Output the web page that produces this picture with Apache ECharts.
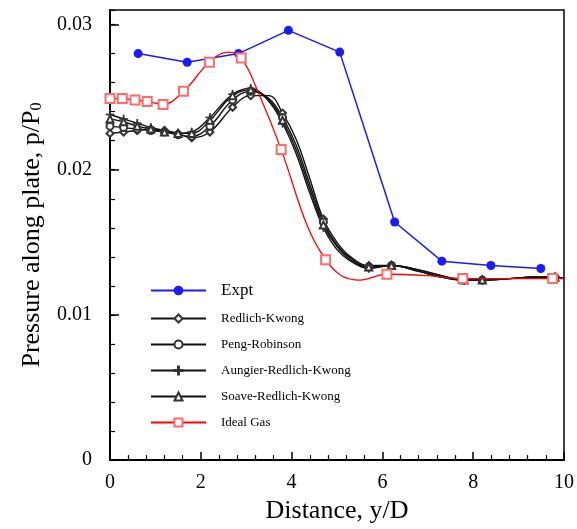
<!DOCTYPE html>
<html>
<head>
<meta charset="utf-8">
<script src="https://cdn.jsdelivr.net/npm/echarts@6/dist/echarts.min.js"></script>
<style>
  html, body { margin: 0; padding: 0; background: #fff; }
  #chart { width: 577px; height: 529px; }
</style>
</head>
<body>
<div id="chart"></div>
<script>
// 实验数据
const exptX = [0.62, 1.70, 2.83, 3.93, 5.06, 6.27, 7.31, 8.39, 9.49];
const exptY = [0.0280, 0.0274, 0.0280, 0.0296, 0.0281, 0.0164, 0.0137, 0.0134, 0.0132];

// 各状态方程共用的 x
const eosX = [0, 0.3, 0.6, 0.9, 1.2, 1.5, 1.8, 2.2, 2.7, 3.1, 3.5, 3.8, 4.1, 4.4, 4.7, 5.0, 5.3, 5.7, 6.2, 6.8, 7.3, 7.8, 8.2, 8.8, 9.3, 9.8, 10];
const rkY = [0.0225, 0.0226, 0.0227, 0.0228, 0.0227, 0.0225, 0.0222, 0.0226, 0.0243, 0.0251, 0.0251, 0.0239, 0.0221, 0.0194, 0.0166, 0.0150, 0.0140, 0.0134, 0.0134, 0.0131, 0.0127, 0.0124, 0.0124, 0.0125, 0.0126, 0.0126, 0.0125];
const prY = [0.0230, 0.0229, 0.0228, 0.0227, 0.0226, 0.0224, 0.0223, 0.0230, 0.0248, 0.0254, 0.0249, 0.0236, 0.0217, 0.0190, 0.0164, 0.0148, 0.0139, 0.0133, 0.0134, 0.0131, 0.0127, 0.0124, 0.0124, 0.0125, 0.0126, 0.0126, 0.0125];
const arkY = [0.0238, 0.0235, 0.0232, 0.0229, 0.0227, 0.0225, 0.0226, 0.0236, 0.0252, 0.0256, 0.0247, 0.0232, 0.0211, 0.0184, 0.0160, 0.0145, 0.0137, 0.0132, 0.0134, 0.0130, 0.0126, 0.0124, 0.0124, 0.0125, 0.0126, 0.0126, 0.0125];
const srkY = [0.0235, 0.0233, 0.0230, 0.0228, 0.0226, 0.0225, 0.0225, 0.0234, 0.0251, 0.0255, 0.0248, 0.0234, 0.0214, 0.0187, 0.0162, 0.0147, 0.0138, 0.0133, 0.0134, 0.0130, 0.0126, 0.0124, 0.0124, 0.0125, 0.0126, 0.0126, 0.0125];
// 带标记的点下标
const eosMarks = [0, 1, 2, 3, 4, 5, 6, 7, 8, 9, 11, 14, 17, 18, 21, 22, 25];

// 理想气体
const idealX = [0, 0.27, 0.55, 0.82, 1.17, 1.62, 2.19, 2.6, 2.89, 3.27, 3.77, 4.35, 4.75, 5.1, 5.5, 6.1, 7.0, 7.77, 8.8, 9.75, 10];
const idealY = [0.0249, 0.0249, 0.0248, 0.0247, 0.0245, 0.0254, 0.0274, 0.0281, 0.0277, 0.0253, 0.0214, 0.0161, 0.0138, 0.0127, 0.0124, 0.0128, 0.0127, 0.0125, 0.0125, 0.0125, 0.0125];
const idealMarks = [0, 1, 2, 3, 4, 5, 6, 8, 10, 12, 15, 17, 19];

const font = 'Liberation Serif';
const plusPath = 'path://M-0.12,-1h0.24v0.88h0.88v0.24h-0.88v0.88h-0.24v-0.88h-0.88v-0.24h0.88z';

function build(xs, ys, marks) {
  return xs.map((x, i) => {
    if (marks && marks.indexOf(i) < 0) {
      return { value: [x, ys[i]], symbol: 'none' };
    }
    return { value: [x, ys[i]] };
  });
}

function eosSeries(name, ys, symbol, size) {
  return {
    name,
    type: 'line',
    smooth: 0.4,
    data: build(eosX, ys, eosMarks),
    symbol,
    symbolSize: size,
    lineStyle: { color: '#111', width: 1.4 },
    itemStyle: { color: '#333', borderColor: '#333', borderWidth: 0.8 },
    z: 3,
  };
}

const myChart = echarts.init(document.getElementById('chart'));

const option = {
  animation: false,
  backgroundColor: '#fff',
  grid: {
    left: 110,
    right: 12,
    top: 10,
    bottom: 66,
    show: true,
    borderColor: '#000',
    borderWidth: 1.5,
  },
  legend: [
    {
      data: ['Expt'],
      left: 145,
      top: 277,
      itemWidth: 55,
      itemHeight: 12,
      textStyle: { fontFamily: font, fontSize: 17, color: '#000', padding: [0, 0, 0, 10] },
    },
    {
      data: ['Redlich-Kwong', 'Peng-Robinson', 'Aungier-Redlich-Kwong', 'Soave-Redlich-Kwong', 'Ideal Gas'],
      left: 145,
      top: 307,
      orient: 'vertical',
      itemGap: 13,
      itemWidth: 55,
      itemHeight: 10,
      textStyle: { fontFamily: font, fontSize: 13, color: '#000', padding: [0, 0, 0, 10] },
    },
  ],
  xAxis: {
    type: 'value',
    min: 0,
    max: 10,
    interval: 2,
    name: 'Distance, y/D',
    nameLocation: 'middle',
    nameGap: 35,
    nameTextStyle: { fontFamily: font, fontSize: 26, color: '#000' },
    axisLine: { lineStyle: { color: '#000', width: 2 } },
    axisTick: { inside: true, length: 8, lineStyle: { color: '#000', width: 1.5 } },
    minorTick: { show: true, splitNumber: 5, length: 5, lineStyle: { color: '#000', width: 1.2 } },
    axisLabel: { fontFamily: font, fontSize: 20, color: '#000', margin: 13 },
    splitLine: { show: false },
  },
  yAxis: [
    {
      type: 'value',
      min: 0,
      max: 0.031,
      interval: 0.01,
      name: 'Pressure along plate, p/P{sub|0}',
      nameLocation: 'middle',
      nameGap: 65,
      nameTextStyle: {
        fontFamily: font,
        fontSize: 26,
        color: '#000',
        rich: {
          sub: { fontFamily: font, fontSize: 16, color: '#000', verticalAlign: 'bottom', padding: [10, 0, 0, 0] },
        },
      },
      axisLine: { lineStyle: { color: '#000', width: 2 } },
      axisTick: { inside: true, length: 9, lineStyle: { color: '#000', width: 1.5 } },
      axisLabel: { fontFamily: font, fontSize: 20, color: '#000', margin: 18, showMaxLabel: false },
      splitLine: { show: false },
    },
    {
      // 次刻度
      type: 'value',
      min: 0,
      max: 0.031,
      interval: 0.002,
      position: 'left',
      axisLine: { show: false },
      axisTick: { inside: true, length: 5, lineStyle: { color: '#000', width: 1.2 } },
      axisLabel: { show: false },
      splitLine: { show: false },
    },
  ],
  series: [
    {
      name: 'Expt',
      type: 'line',
      data: build(exptX, exptY),
      symbol: 'circle',
      symbolSize: 9,
      lineStyle: { color: '#1a1aff', width: 1.5 },
      itemStyle: { color: '#1a1aff' },
      z: 4,
    },
    eosSeries('Redlich-Kwong', rkY, 'emptyDiamond', 7),
    eosSeries('Peng-Robinson', prY, 'emptyCircle', 7),
    eosSeries('Aungier-Redlich-Kwong', arkY, plusPath, 8),
    eosSeries('Soave-Redlich-Kwong', srkY, 'emptyTriangle', 7),
    {
      name: 'Ideal Gas',
      type: 'line',
      smooth: 0.4,
      data: build(idealX, idealY, idealMarks),
      symbol: 'emptyRect',
      symbolSize: 9,
      lineStyle: { color: '#ff0000', width: 1.3 },
      itemStyle: { color: '#ff6a6a', borderColor: '#ff6a6a', borderWidth: 1 },
      z: 5,
    },
  ],
};

myChart.setOption(option);
</script>
</body>
</html>
